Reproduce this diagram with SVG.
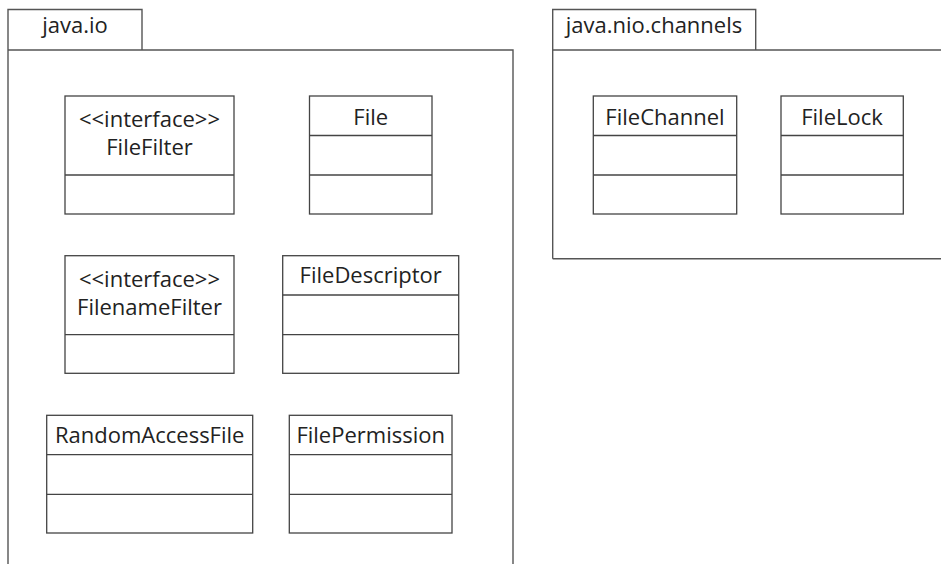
<svg xmlns="http://www.w3.org/2000/svg" width="941" height="564" viewBox="0 0 941 564">
<style>
.ln{fill:none;stroke:#555;stroke-width:1.4}
.bx{fill:#fff;stroke:#444;stroke-width:1.3}
.t{font-family:"Open Sans","Noto Sans",sans-serif;font-size:22px;fill:#222;text-anchor:middle}
</style>
<rect width="941" height="564" fill="#fff"/>
<g id="pkg-java-io">
<path class="ln" d="M8,564 V9.5 H142 V50 M8,50 H513 V564"/>
<text class="t" x="75" y="33">java.io</text>
</g>
<g id="pkg-java-nio-channels">
<path class="ln" d="M552.7,258.7 V9.5 H755.7 V50 M552.7,50 H945 M552.7,258.7 H945"/>
<text class="t" x="654" y="33">java.nio.channels</text>
</g>
<g id="FileFilter">
<rect class="bx" x="65" y="96" width="169" height="118"/>
<line class="bx" x1="65" y1="175" x2="234" y2="175"/>
<text class="t" x="149.5" y="127">&lt;&lt;interface&gt;&gt;</text>
<text class="t" x="149.5" y="155">FileFilter</text>
</g>
<g id="File">
<rect class="bx" x="309.5" y="96" width="122.5" height="118"/>
<line class="bx" x1="309.5" y1="135.5" x2="432" y2="135.5"/>
<line class="bx" x1="309.5" y1="175" x2="432" y2="175"/>
<text class="t" x="370.75" y="125">File</text>
</g>
<g id="FilenameFilter">
<rect class="bx" x="65" y="255.7" width="169" height="117.6"/>
<line class="bx" x1="65" y1="334.7" x2="234" y2="334.7"/>
<text class="t" x="149.5" y="286.7">&lt;&lt;interface&gt;&gt;</text>
<text class="t" x="149.5" y="315">FilenameFilter</text>
</g>
<g id="FileDescriptor">
<rect class="bx" x="282.7" y="255.7" width="176" height="117.6"/>
<line class="bx" x1="282.7" y1="295" x2="458.7" y2="295"/>
<line class="bx" x1="282.7" y1="334.7" x2="458.7" y2="334.7"/>
<text class="t" x="370.7" y="283.3">FileDescriptor</text>
</g>
<g id="RandomAccessFile">
<rect class="bx" x="46.7" y="415.3" width="206" height="117.7"/>
<line class="bx" x1="46.7" y1="454.7" x2="252.7" y2="454.7"/>
<line class="bx" x1="46.7" y1="494.3" x2="252.7" y2="494.3"/>
<text class="t" x="149.7" y="443.3">RandomAccessFile</text>
</g>
<g id="FilePermission">
<rect class="bx" x="289.3" y="415.3" width="162.7" height="117.7"/>
<line class="bx" x1="289.3" y1="454.7" x2="452" y2="454.7"/>
<line class="bx" x1="289.3" y1="494.3" x2="452" y2="494.3"/>
<text class="t" x="370.7" y="443.3">FilePermission</text>
</g>
<g id="FileChannel">
<rect class="bx" x="593.3" y="96" width="143.4" height="118"/>
<line class="bx" x1="593.3" y1="135.5" x2="736.7" y2="135.5"/>
<line class="bx" x1="593.3" y1="175" x2="736.7" y2="175"/>
<text class="t" x="665" y="125">FileChannel</text>
</g>
<g id="FileLock">
<rect class="bx" x="781" y="96" width="122.3" height="118"/>
<line class="bx" x1="781" y1="135.5" x2="903.3" y2="135.5"/>
<line class="bx" x1="781" y1="175" x2="903.3" y2="175"/>
<text class="t" x="842" y="125">FileLock</text>
</g>
<g id="connectors"/>
</svg>
